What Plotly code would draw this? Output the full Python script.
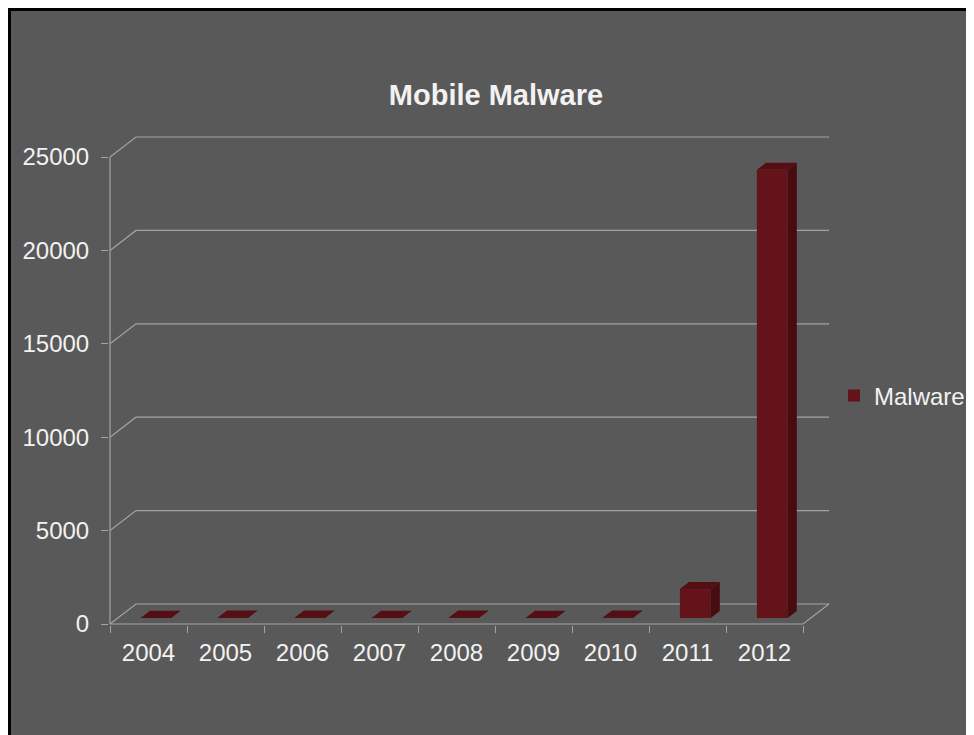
import plotly.graph_objects as go

# ---------------- data ----------------
years = ["2004", "2005", "2006", "2007", "2008", "2009", "2010", "2011", "2012"]
malware = [20, 30, 25, 20, 25, 20, 22, 1550, 24000]
y_ticks = [0, 5000, 10000, 15000, 20000, 25000]
y_labels = ["0", "5000", "10000", "15000", "20000", "25000"]

# ---------------- style / geometry ----------------
BG = "#595959"
GRID = "#A3A3A3"
TXT = "#F2F2F2"
FRONT = "#64131A"
SIDE = "#470C10"
TOP = "#540F15"
FONT = "Arial, Liberation Sans, sans-serif"

OFF = 8                    # page offset of the plot div (body margin)
W, H = 974 - OFF, 735 - OFF

PPU = 467 / 25000          # pixels per value unit
PXC = 77                   # pixels per category
DX = 26 / PXC              # full depth shift in category units
DY = 20 / PPU              # full depth shift in value units
BAR_D0 = 0.30              # depth fraction of bar front face
BAR_DD = 0.35              # bar depth fraction
BAR_W = 0.40

n = len(years)
xs = list(range(n))
xr = [-0.5 - 1 / PXC, n - 0.5 + DX + 2 / PXC]
yr = [-1 / PPU, (624 - 135) / PPU]
ML = 109 - OFF
MT = 135 - OFF
PW = (xr[1] - xr[0]) * PXC
PH = (yr[1] - yr[0]) * PPU
MB = H - MT - PH
MR = W - ML - PW

fig = go.Figure()

# ---- walls: gridlines (with side-wall diagonals), axis lines, floor edges ----
gx, gy = [], []
for v in y_ticks:
    gx += [-0.5, -0.5 + DX, n - 0.5 + DX, None]
    gy += [v, v + DY, v + DY, None]
gx += [-0.5, -0.5, None]
gy += [0, y_ticks[-1], None]
gx += [-0.5, n - 0.5, n - 0.5 + DX, None]
gy += [0, 0, DY, None]
fig.add_trace(go.Scatter(x=gx, y=gy, mode="lines", line=dict(color=GRID, width=1.2),
                         hoverinfo="skip", showlegend=False, xaxis="x", yaxis="y"))

# ---- bars (on overlay subplot, above the walls) ----
base = BAR_D0 * DY
xc = [x + BAR_D0 * DX for x in xs]
fig.add_trace(go.Bar(x=xc, y=malware, base=[base] * n, width=BAR_W, name="Malware",
                     marker=dict(color=FRONT, line=dict(width=0)),
                     xaxis="x2", yaxis="y2"))

sx, sy, tx, ty = [], [], [], []
ddx, ddy = BAR_DD * DX, BAR_DD * DY
for c, v in zip(xc, malware):
    x0, x1 = c - BAR_W / 2, c + BAR_W / 2
    top = base + v
    sx += [x1, x1 + ddx, x1 + ddx, x1, x1, None]
    sy += [base, base + ddy, top + ddy, top, base, None]
    tx += [x0, x1, x1 + ddx, x0 + ddx, x0, None]
    ty += [top, top, top + ddy, top + ddy, top, None]
fig.add_trace(go.Scatter(x=sx, y=sy, mode="lines", fill="toself", fillcolor=SIDE,
                         line=dict(width=0, color=SIDE), hoverinfo="skip",
                         showlegend=False, xaxis="x2", yaxis="y2"))
fig.add_trace(go.Scatter(x=tx, y=ty, mode="lines", fill="toself", fillcolor=TOP,
                         line=dict(width=0, color=TOP), hoverinfo="skip",
                         showlegend=False, xaxis="x2", yaxis="y2"))

fig.update_layout(
    width=W, height=H,
    autosize=False,
    margin=dict(l=ML, r=MR, t=MT, b=MB, pad=0, autoexpand=False),
    paper_bgcolor="white",
    plot_bgcolor="rgba(0,0,0,0)",
    font=dict(family=FONT, color=TXT, size=24),
    title=dict(text="<b>Mobile Malware</b>", x=(496 - OFF) / W, xref="container",
               xanchor="center", y=1 - (95 - OFF) / H, yref="container", yanchor="middle",
               font=dict(size=29, color=TXT, family=FONT)),
    xaxis=dict(range=xr, tickmode="array", tickvals=xs, ticktext=years, ticks="",
               showgrid=False, zeroline=False, showline=False, automargin=False,
               tickfont=dict(size=24, color=TXT), ticklabelstandoff=11,
               minor=dict(tickmode="linear", tick0=-0.5, dtick=1, ticks="outside",
                          ticklen=7, tickcolor=GRID, tickwidth=1.2, showgrid=False)),
    yaxis=dict(range=yr, tickmode="array", tickvals=y_ticks, ticktext=y_labels,
               ticks="outside", ticklen=7, tickcolor=GRID, tickwidth=1.2, showgrid=False,
               zeroline=False, showline=False, automargin=False,
               tickfont=dict(size=24, color=TXT), ticklabelstandoff=7),
    xaxis2=dict(range=xr, overlaying="x", visible=False, anchor="y2"),
    yaxis2=dict(range=yr, overlaying="y", visible=False, anchor="x2"),
    legend=dict(xref="container", yref="container",
                x=(834 - OFF) / W, y=1 - (396 - OFF) / H, xanchor="left",
                yanchor="middle", bgcolor="rgba(0,0,0,0)", font=dict(size=24, color=TXT)),
    shapes=[dict(type="rect", xref="paper", yref="paper", layer="below",
                 x0=(1.5 - ML) / PW, x1=(1000 - ML) / PW,
                 y0=(MT + PH - 760) / PH, y1=(MT + PH - 1.5) / PH,
                 fillcolor=BG, line=dict(color="black", width=3))],
)

fig.write_html("out.html")
